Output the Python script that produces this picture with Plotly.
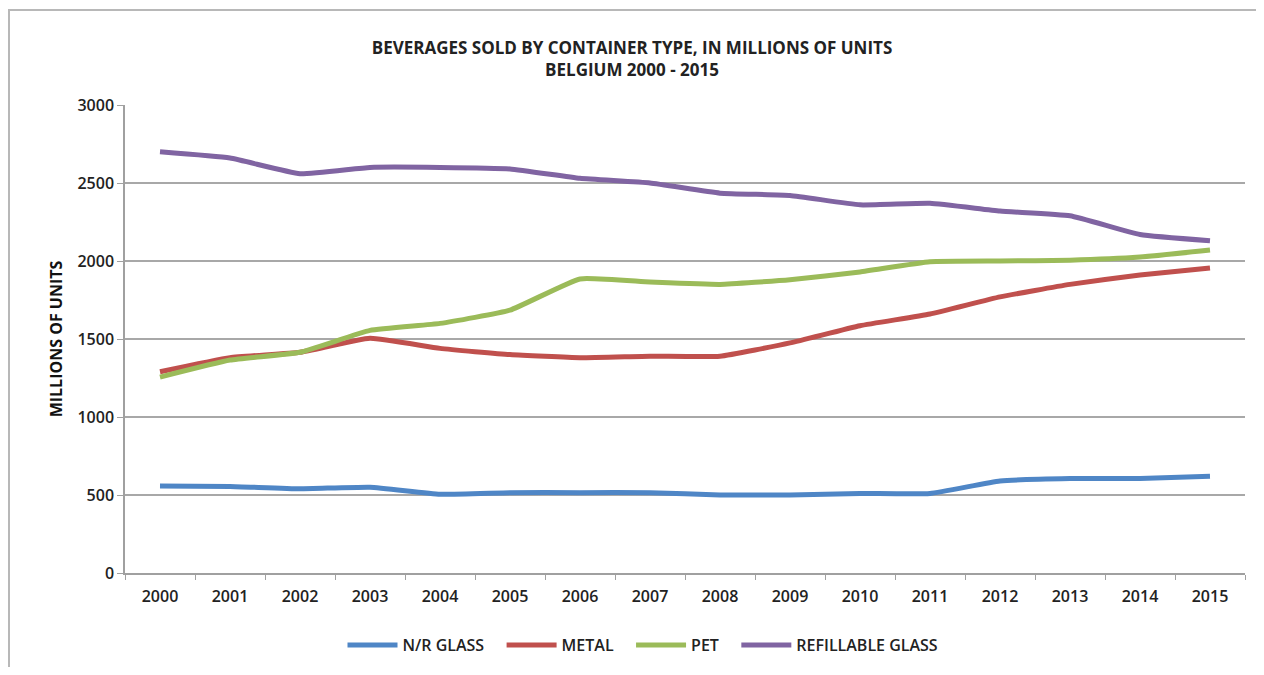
import plotly.graph_objects as go

years = [str(y) for y in range(2000, 2016)]
nr_glass = [557, 555, 540, 550, 505, 515, 515, 515, 500, 500, 510, 510, 590, 605, 605, 620]
metal = [1290, 1380, 1415, 1505, 1440, 1400, 1380, 1390, 1390, 1475, 1585, 1660, 1770, 1850, 1910, 1955]
pet = [1256, 1365, 1415, 1555, 1600, 1685, 1885, 1865, 1850, 1880, 1930, 1995, 2000, 2005, 2025, 2070]
refillable = [2700, 2660, 2560, 2600, 2600, 2590, 2530, 2500, 2435, 2420, 2360, 2370, 2320, 2290, 2170, 2130]
y_ticks = [0, 500, 1000, 1500, 2000, 2500, 3000]

series = [
    ("N/R GLASS", nr_glass, "#4F86C6"),
    ("METAL", metal, "#C0504D"),
    ("PET", pet, "#9BBB59"),
    ("REFILLABLE GLASS", refillable, "#8064A2"),
]

FONT = "Open Sans"
PAD = "\u00a0\u00a0\u00a0"

fig = go.Figure()
for i, (name, vals, col) in enumerate(series):
    label = name if i == len(series) - 1 else name + PAD
    fig.add_trace(go.Scatter(
        x=years, y=vals, name=label, mode="lines",
        line=dict(color=col, width=5, shape="spline", smoothing=0.4),
    ))

# page body has an 8px margin, so the figure is offset by 8px
W, H = 1248, 659
ml, mr, mt, mb = 117, 11, 97, 94
pw, ph = W - ml - mr, H - mt - mb

fig.update_layout(
    width=W, height=H,
    margin=dict(l=ml, r=mr, t=mt, b=mb, autoexpand=False),
    paper_bgcolor="white", plot_bgcolor="white",
    font=dict(family=FONT, color="#333333", size=14),
    title=dict(
        text="<b>BEVERAGES SOLD BY CONTAINER TYPE, IN MILLIONS OF UNITS<br>BELGIUM 2000 - 2015</b>",
        x=0.5, xanchor="center", y=1 - 46 / H, yanchor="middle",
        font=dict(family=FONT, size=17, color="#222222"),
    ),
    xaxis=dict(
        type="category", range=[-0.5, 15.5],
        showgrid=False, showline=True, linecolor="#A0A0A0", linewidth=1.5,
        ticks="outside", tickson="boundaries", ticklen=5, tickcolor="#A0A0A0",
        ticklabelstandoff=8,
        tickfont=dict(size=16, color="#222222", weight=600),
    ),
    yaxis=dict(
        range=[0, 3000], tickvals=y_ticks,
        showgrid=True, gridcolor="#A8A8A8", gridwidth=1.5,
        showline=True, linecolor="#A0A0A0", linewidth=1.5,
        ticks="outside", ticklen=6, tickcolor="#A0A0A0",
        tickfont=dict(size=16, color="#222222", weight=600),
        zeroline=False,
        title=dict(text="<b>MILLIONS OF UNITS</b>", standoff=11,
                   font=dict(size=16, color="#111111")),
    ),
    legend=dict(
        orientation="h", x=(635 - ml) / pw, xanchor="center",
        y=-(637 - (H - mb)) / ph, yanchor="middle",
        font=dict(size=16, color="#222222", weight=600),
        itemwidth=50, traceorder="normal",
    ),
    showlegend=True,
)

# chart frame
fig.add_shape(type="rect", xref="paper", yref="paper",
              x0=(1 - ml) / pw, x1=(W + 30 - ml) / pw,
              y0=-(mb + 30) / ph, y1=1 + (mt - 2) / ph,
              line=dict(color="#B8B8B8", width=2), fillcolor="rgba(0,0,0,0)",
              layer="below")

fig.write_html("out.html")
